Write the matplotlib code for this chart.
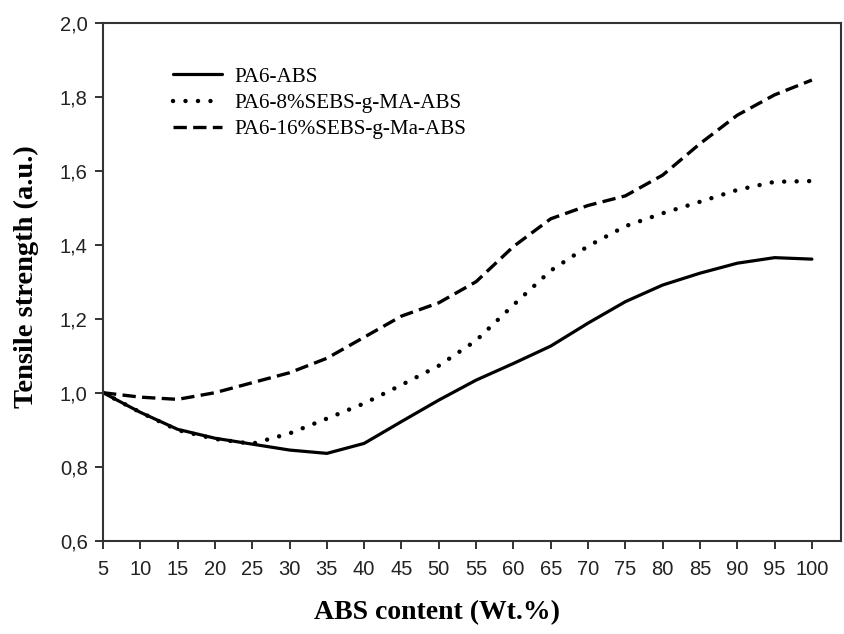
import numpy as np
import matplotlib
matplotlib.use('Agg')
import matplotlib.pyplot as plt

###############################################################################
# Data

abs_content = [5, 10, 15, 20, 25, 30, 35, 40, 45, 50, 55, 60, 65, 70, 75,
               80, 85, 90, 95, 100]

pa6_abs = [1.000, 0.947, 0.901, 0.877, 0.861, 0.845, 0.836, 0.863, 0.922,
           0.980, 1.034, 1.079, 1.126, 1.188, 1.246, 1.291, 1.323, 1.350,
           1.365, 1.361]

pa6_8sebs = [1.000, 0.947, 0.899, 0.875, 0.862, 0.890, 0.930, 0.971, 1.021,
             1.073, 1.141, 1.237, 1.330, 1.396, 1.450, 1.485, 1.516, 1.548,
             1.570, 1.572]

pa6_16sebs = [1.000, 0.988, 0.982, 1.000, 1.027, 1.054, 1.093, 1.150, 1.207,
              1.243, 1.300, 1.395, 1.470, 1.506, 1.532, 1.588, 1.673, 1.750,
              1.805, 1.845]

labels = ['PA6-ABS', 'PA6-8%SEBS-g-MA-ABS', 'PA6-16%SEBS-g-Ma-ABS']
xticks = np.arange(5, 101, 5)
yticks = [0.6, 0.8, 1.0, 1.2, 1.4, 1.6, 1.8, 2.0]

###############################################################################
# Figure set up

W, H = 845, 634
fig = plt.figure(figsize=(W / 100, H / 100), dpi=100)
ax = fig.add_axes([103 / W, 1 - 540.7 / H, (841 - 103) / W, (540.7 - 22.7) / H])

ax.plot(abs_content, pa6_abs, color='black', lw=2.3, ls='-',
        solid_capstyle='round', solid_joinstyle='round', label=labels[0])
ax.plot(abs_content, pa6_8sebs, color='black', lw=3.2, ls=(0, (0.01, 2.8)),
        dash_capstyle='round', label=labels[1])
ax.plot(abs_content, pa6_16sebs, color='black', lw=2.4, ls=(0, (4, 1.9)),
        label=labels[2])

ax.set_xlim(5, 103.9)
ax.set_ylim(0.6, 2.0)
ax.set_xticks(xticks)
ax.set_yticks(yticks)
ax.set_xticklabels([str(t) for t in xticks])
ax.set_yticklabels([('%.1f' % t).replace('.', ',') for t in yticks])

for lab in ax.get_xticklabels() + ax.get_yticklabels():
    lab.set_fontfamily('Liberation Sans')
    lab.set_fontsize(14.5)
    lab.set_color('#222222')

ax.tick_params(axis='both', direction='out', length=6, width=1.4,
               color='#333333')
ax.tick_params(axis='x', pad=8)
ax.tick_params(axis='y', pad=5)
for sp in ax.spines.values():
    sp.set_linewidth(1.5)
    sp.set_color('#333333')

# Axis labels
fig.text(437 / W, 1 - 613 / H, 'ABS content (Wt.%)', ha='center', va='center',
         fontfamily='Liberation Serif', fontweight='bold', fontsize=20)
fig.text(26.5 / W, 1 - 277 / H, 'Tensile strength (a.u.)', ha='center',
         va='center', rotation=90, fontfamily='Liberation Serif',
         fontweight='bold', fontsize=20.5)

# Legend
leg = ax.legend(loc='upper left', bbox_to_anchor=((173 - 103) / 738, (540.7 - 67) / 518),
                frameon=False, borderpad=0, borderaxespad=0, handlelength=2.3,
                handletextpad=0.6, labelspacing=0.3,
                prop={'family': 'Liberation Serif', 'size': 15.2})

fig.savefig('out.png', dpi=100)
